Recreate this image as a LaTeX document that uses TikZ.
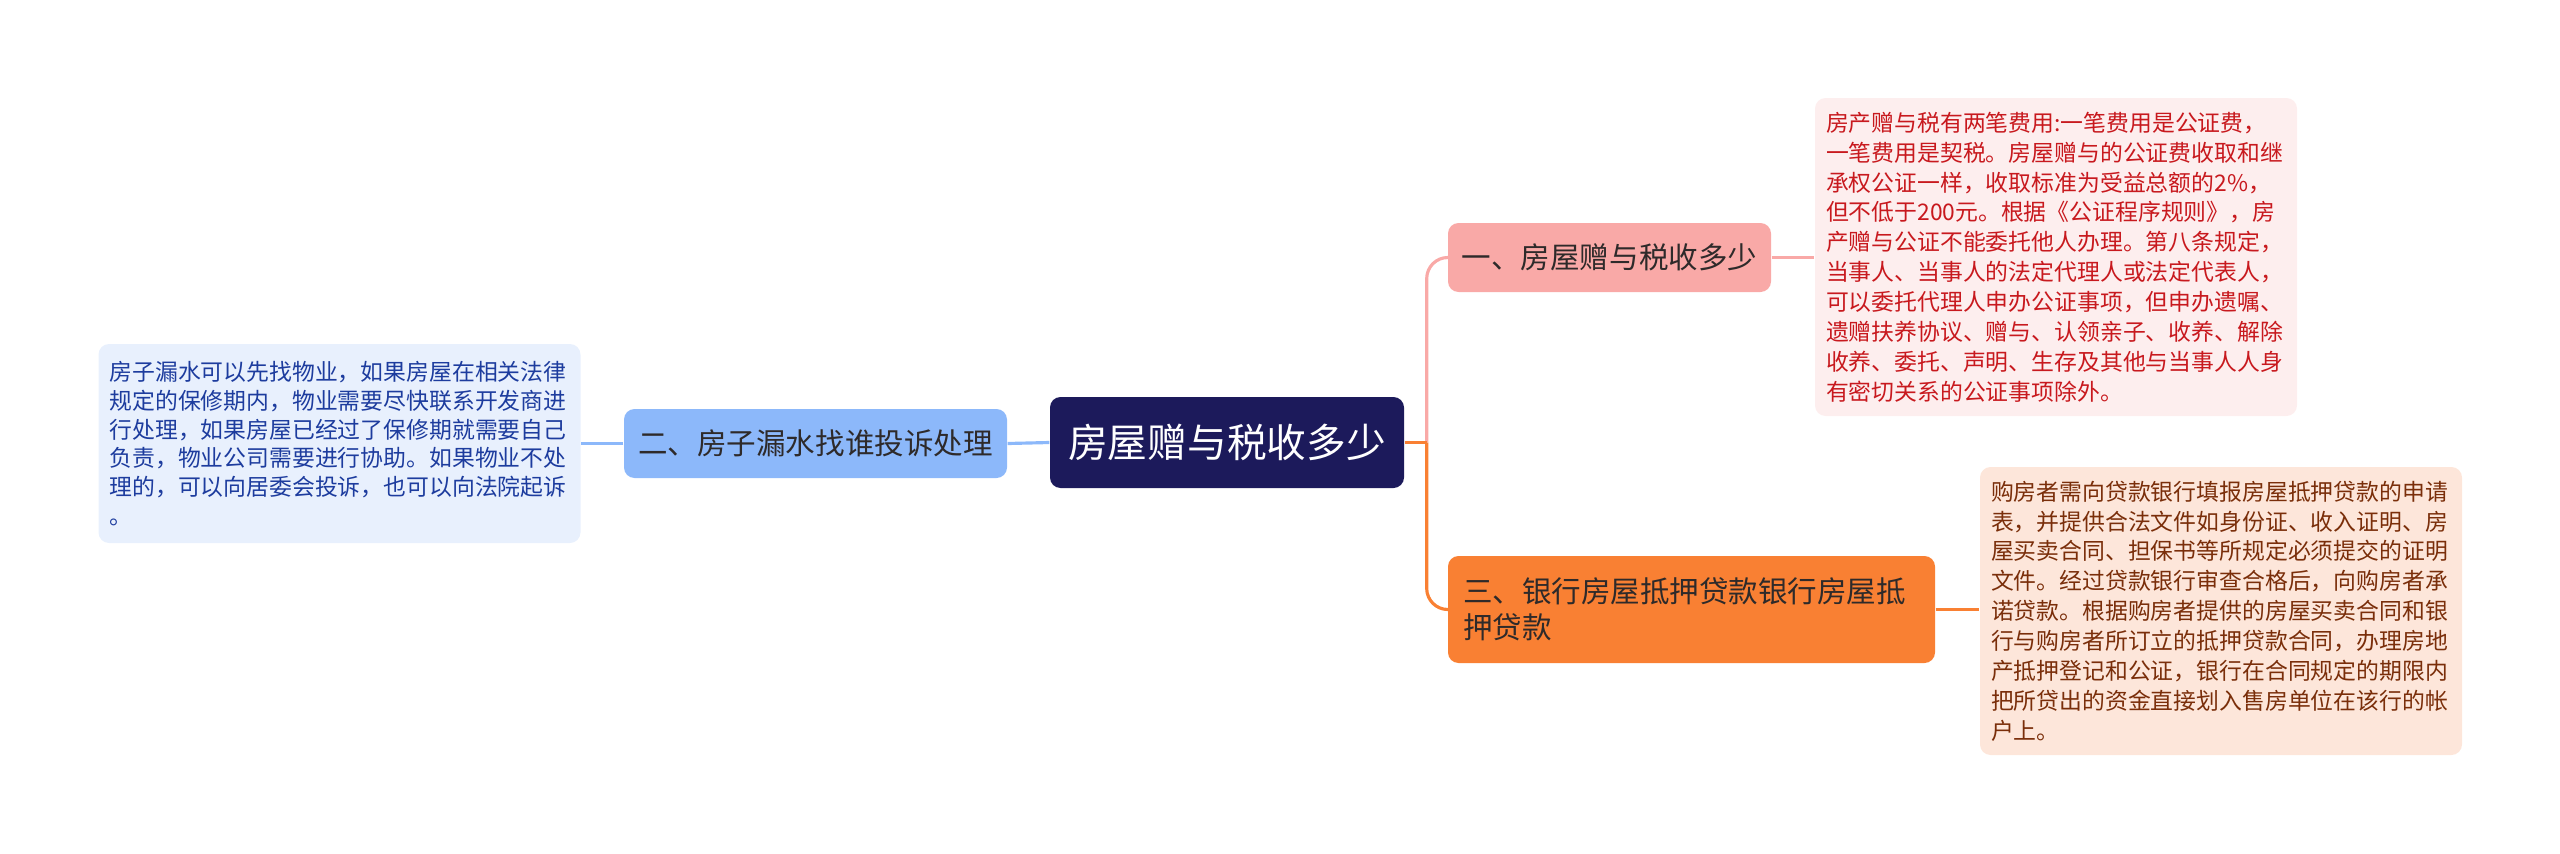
\documentclass[tikz,border=0pt]{standalone}
\usepackage{fontspec}
\setmainfont{Noto Sans CJK SC}
\usepackage{xcolor}
\usepackage{tikz}
\usetikzlibrary{positioning,calc}

\definecolor{rootc}{HTML}{1C1A5B}
\definecolor{pinkc}{HTML}{F9A9A7}
\definecolor{bluec}{HTML}{8CB8FA}
\definecolor{orangec}{HTML}{F98033}
\definecolor{pinkleaf}{HTML}{FDEEEE}
\definecolor{blueleaf}{HTML}{E8F0FD}
\definecolor{orangeleaf}{HTML}{FDE6DA}
\definecolor{redtext}{HTML}{C8191E}
\definecolor{bluetext}{HTML}{1D3C9E}
\definecolor{browntext}{HTML}{7A2E0A}
\definecolor{darktext}{HTML}{2E2A2A}

\begin{document}
\begin{tikzpicture}[
  root/.style={fill=rootc, text=white, rounded corners=3pt, minimum width=3.54cm, minimum height=0.91cm, inner sep=0pt, font=\fontsize{11.3}{14}\selectfont},
  topic/.style={rounded corners=3pt, minimum height=0.69cm, inner sep=0pt, text=darktext, font=\fontsize{8.4}{10.3}\selectfont},
  leaf/.style={rounded corners=3pt, text width=4.6cm, align=left, inner xsep=0.11cm, inner ysep=0pt, font=\fontsize{6.5}{8.5}\selectfont},
  link/.style={line width=0.9pt},
  elbow/.style={line width=0.9pt, rounded corners=6pt},
]
\useasboundingbox (0,0) rectangle (25.6,8.53);

% Root
\node[root] (root) at (12.27, 4.105) {房屋赠与税收多少};

% Topics
\node[topic, fill=pinkc, minimum width=3.23cm] (tax) at (16.095, 5.955) {一、房屋赠与税收多少};
\node[topic, fill=bluec, minimum width=3.83cm] (leak) at (8.155, 4.095) {二、房子漏水找谁投诉处理};
\node[topic, fill=orangec, minimum height=1.07cm, text width=4.57cm, inner xsep=0.15cm, align=left] (loan) at (16.915, 2.435) {三、银行房屋抵押贷款银行房屋抵\\押贷款};

% Leaves
\node[leaf, fill=pinkleaf, text=redtext, minimum height=3.18cm] (taxleaf) at (20.56, 5.96) {房产赠与税有两笔费用:一笔费用是公证费，\\一笔费用是契税。房屋赠与的公证费收取和继\\承权公证一样，收取标准为受益总额的2\%，\\但不低于200元。根据《公证程序规则》，房\\产赠与公证不能委托他人办理。第八条规定，\\当事人、当事人的法定代理人或法定代表人，\\可以委托代理人申办公证事项，但申办遗嘱、\\遗赠扶养协议、赠与、认领亲子、收养、解除\\收养、委托、声明、生存及其他与当事人人身\\有密切关系的公证事项除外。};
\node[leaf, fill=blueleaf, text=bluetext, minimum height=1.99cm, font=\fontsize{6.5}{8.2}\selectfont] (leakleaf) at (3.395, 4.095) {房子漏水可以先找物业，如果房屋在相关法律\\规定的保修期内，物业需要尽快联系开发商进\\行处理，如果房屋已经过了保修期就需要自己\\负责，物业公司需要进行协助。如果物业不处\\理的，可以向居委会投诉，也可以向法院起诉\\。};
\node[leaf, fill=orangeleaf, text=browntext, minimum height=2.88cm] (loanleaf) at (22.21, 2.42) {购房者需向贷款银行填报房屋抵押贷款的申请\\表，并提供合法文件如身份证、收入证明、房\\屋买卖合同、担保书等所规定必须提交的证明\\文件。经过贷款银行审查合格后，向购房者承\\诺贷款。根据购房者提供的房屋买卖合同和银\\行与购房者所订立的抵押贷款合同，办理房地\\产抵押登记和公证，银行在合同规定的期限内\\把所贷出的资金直接划入售房单位在该行的帐\\户上。};

% Links
\coordinate (fork) at ($(root.east)+(0.22,0)$);
\draw[elbow, pinkc] (fork) |- (tax.west);
\draw[elbow, orangec] (fork) |- (loan.west);
\draw[link, orangec] (root.east) -- (fork);
\draw[link, bluec] (root.west) -- (leak.east);
\draw[link, bluec] (leak.west) -- (leakleaf.east);
\draw[link, pinkc] (tax.east) -- (tax.east -| taxleaf.west);
\draw[link, orangec] (loan.east) -- (loan.east -| loanleaf.west);

\end{tikzpicture}
\end{document}
